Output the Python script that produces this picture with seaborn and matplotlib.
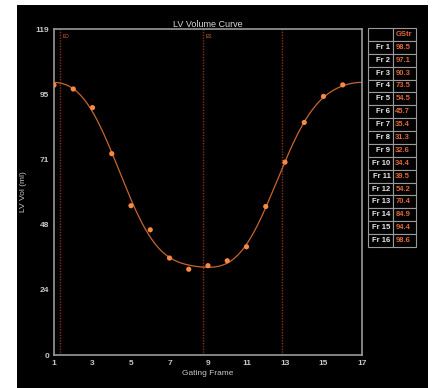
import numpy as np
import pandas as pd
import seaborn as sns
import matplotlib.pyplot as plt
from matplotlib.patches import Rectangle

frames = list(range(1, 17))
frame_labels = ['Fr {}'.format(f) for f in frames]
gstr = [98.5, 97.1, 90.3, 73.5, 54.5, 45.7, 35.4, 31.3, 32.6, 34.4, 39.5, 54.2, 70.4, 84.9, 94.4, 98.6]
marker_frames = [1.31, 8.74, 12.84]
marker_labels = ['ED', 'ES', '']
y_ticks = [0, 23.8, 47.6, 71.4, 95.2, 119]
y_tick_labels = ['0', '24', '48', '71', '95', '119']
x_ticks = [1, 3, 5, 7, 9, 11, 13, 15, 17]

df = pd.DataFrame({'frame': frames, 'vol': gstr})

# smooth curve: least squares fourier fit (period 16 frames) of the points
def fourier_fit(x, y, period=16, n=3):
    def basis(t):
        cols = [np.ones_like(t)]
        for k in range(1, n + 1):
            w = 2 * np.pi * k * (t - 1) / period
            cols += [np.cos(w), np.sin(w)]
        return np.column_stack(cols)
    coef, *_ = np.linalg.lstsq(basis(np.asarray(x, float)), np.asarray(y, float), rcond=None)
    return lambda t: basis(np.asarray(t, float)) @ coef

fit = fourier_fit(frames, gstr)
xs = np.linspace(1, 17, 300)
df_curve = pd.DataFrame({'frame': xs, 'vol': fit(xs)})

sns.set_style('dark', {'axes.facecolor': 'black'})
plt.rcParams['font.family'] = ['Liberation Sans', 'DejaVu Sans']

W, H = 436, 388
fig = plt.figure(figsize=(W / 100, H / 100), dpi=100, facecolor='white')
fig.patches.append(Rectangle((17 / W, 0), 411 / W, 383 / H, transform=fig.transFigure,
                             facecolor='black', edgecolor='none', zorder=-1))

ax = fig.add_axes([54 / W, 33 / H, 308 / W, 326 / H])
ax.set_facecolor('black')

for xv, lab in zip(marker_frames, marker_labels):
    ax.axvline(xv, color='#8e3018', ls=(0, (1, 1)), lw=1.0, zorder=1)
    if lab:
        ax.text(xv + 0.12, 117, lab, color='#e06a30', fontsize=3.5, va='top', ha='left')

sns.lineplot(data=df_curve, x='frame', y='vol', ax=ax, color='#c8642e', lw=0.9, zorder=2)
sns.scatterplot(data=df, x='frame', y='vol', ax=ax, color='#f58a45', s=14,
                edgecolor='none', zorder=3)

ax.set_xlim(1, 17)
ax.set_ylim(0, 119)
ax.set_xticks(x_ticks)
ax.set_xticks(range(2, 17, 2), minor=True)
ax.set_yticks(y_ticks)
ax.set_yticklabels(y_tick_labels)
ax.tick_params(colors='#c8c8c8', labelsize=6, length=3, width=0.8, direction='inout', pad=2)
ax.tick_params(axis='x', which='minor', length=3, width=0.8, color='#c8c8c8', direction='inout')
for lbl in ax.get_xticklabels() + ax.get_yticklabels():
    lbl.set_fontweight('bold')
ax.grid(False)
for s in ax.spines.values():
    s.set_color('#9a9a9a')
    s.set_linewidth(1.2)
    s.set_visible(True)

ax.set_xlabel('Gating Frame', color='#c8c8c8', fontsize=6, labelpad=2)
ax.set_ylabel('LV Vol (ml)', color='#c8c8c8', fontsize=6, labelpad=6)
ax.set_title('LV Volume Curve', color='#d8d8d8', fontsize=6.5, pad=1.5)

# table at the right
tax = fig.add_axes([368 / W, (H - 247) / H, 48 / W, 219 / H])
tax.set_facecolor('black')
tax.axis('off')
cells = [['', 'GStr']] + [[l, '{:.1f}'.format(v)] for l, v in zip(frame_labels, gstr)]
tbl = tax.table(cellText=cells, bbox=[0, 0, 1, 1], cellLoc='center', colWidths=[0.52, 0.48])
tbl.auto_set_font_size(False)
for (r, c), cell in tbl.get_celld().items():
    cell.set_facecolor('black')
    cell.set_edgecolor('#9a9a9a')
    cell.set_linewidth(0.8)
    txt = cell.get_text()
    txt.set_fontsize(5.5)
    txt.set_fontweight('bold')
    if c == 1:
        txt.set_color('#e0683a')
        cell._loc = 'left'
        txt.set_ha('left')
    else:
        txt.set_color('#e8e8e8')
        txt.set_ha('right')
        cell._loc = 'right'

fig.savefig('out.png', dpi=100, facecolor='white')
